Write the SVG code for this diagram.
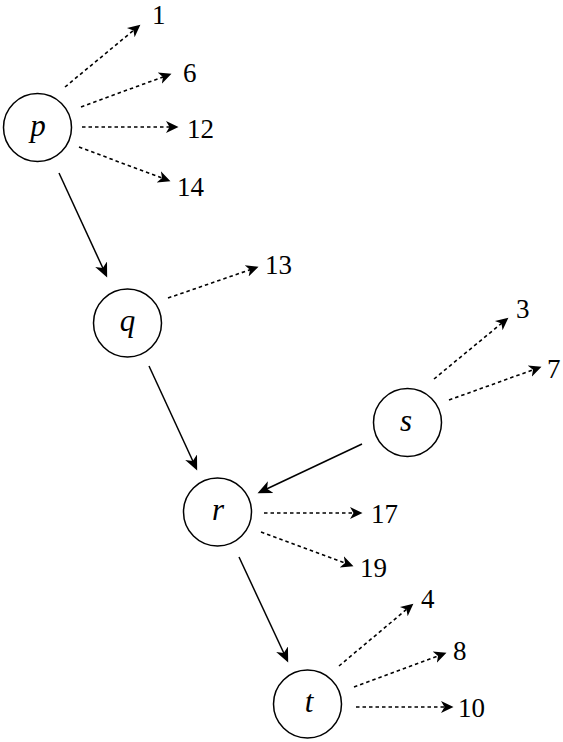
<svg xmlns="http://www.w3.org/2000/svg" width="563" height="742" viewBox="0 0 563 742">
<style>
.node circle{fill:#fff;stroke:#000;stroke-width:1.5}
.node text{font-family:"Liberation Serif","DejaVu Serif",serif;font-style:italic;font-size:31px;text-anchor:middle;fill:#000}
.lbl{font-family:"Liberation Serif","DejaVu Serif",serif;font-size:27px;fill:#000}
.solid{stroke:#000;stroke-width:1.5;fill:none;marker-end:url(#ahs)}
.dot{stroke:#000;stroke-width:1.6;fill:none;stroke-dasharray:3.5 3;marker-end:url(#ah)}
</style>
<defs>
<marker id="ah" markerUnits="userSpaceOnUse" markerWidth="16" markerHeight="16" viewBox="0 -8 16 16" refX="9" refY="0" orient="auto">
<path d="M12.5,0 L0,-6 L3.5,0 L0,6 Z" fill="#000"/>
</marker>
<marker id="ahs" markerUnits="userSpaceOnUse" markerWidth="18" markerHeight="16" viewBox="0 -8 18 16" refX="11" refY="0" orient="auto">
<path d="M14.5,0 L0,-6.5 L4,0 L0,6.5 Z" fill="#000"/>
</marker>
</defs>
<g id="connectors">
<line class="solid" x1="59" y1="173" x2="105.7" y2="274.3"/>
<line class="solid" x1="149" y1="366" x2="195.7" y2="467.3"/>
<line class="solid" x1="362" y1="444" x2="260.7" y2="491.7"/>
<line class="solid" x1="239" y1="557" x2="286.7" y2="659.3"/>
<line class="dot" x1="65" y1="87" x2="137.7" y2="26.9"/>
<line class="dot" x1="81" y1="107" x2="168.2" y2="75"/>
<line class="dot" x1="82" y1="127" x2="175" y2="127"/>
<line class="dot" x1="79" y1="147" x2="167.2" y2="180"/>
<line class="dot" x1="168" y1="298" x2="255.2" y2="268"/>
<line class="dot" x1="434" y1="379" x2="505.7" y2="319.9"/>
<line class="dot" x1="449" y1="400" x2="538.2" y2="368"/>
<line class="dot" x1="264" y1="513" x2="359" y2="513"/>
<line class="dot" x1="261" y1="532" x2="350.2" y2="565"/>
<line class="dot" x1="339" y1="666" x2="410.7" y2="605.9"/>
<line class="dot" x1="354" y1="687" x2="443.2" y2="654"/>
<line class="dot" x1="356" y1="707" x2="450" y2="707"/>
</g>
<g id="labels">
<text class="lbl" x="152" y="24">1</text>
<text class="lbl" x="183" y="82">6</text>
<text class="lbl" x="187" y="138">12</text>
<text class="lbl" x="177" y="196">14</text>
<text class="lbl" x="265" y="274">13</text>
<text class="lbl" x="516" y="318">3</text>
<text class="lbl" x="547" y="378">7</text>
<text class="lbl" x="371" y="523">17</text>
<text class="lbl" x="360" y="577">19</text>
<text class="lbl" x="421" y="608">4</text>
<text class="lbl" x="453" y="660">8</text>
<text class="lbl" x="458" y="717">10</text>
</g>
<g id="node-p" class="node"><circle cx="37.5" cy="127.5" r="34"/><text x="38" y="136">p</text></g>
<g id="node-q" class="node"><circle cx="127.5" cy="323" r="34"/><text x="127.5" y="331">q</text></g>
<g id="node-s" class="node"><circle cx="407.5" cy="422.5" r="34"/><text x="406" y="431">s</text></g>
<g id="node-r" class="node"><circle cx="217.5" cy="512" r="34"/><text x="218" y="520">r</text></g>
<g id="node-t" class="node"><circle cx="307.5" cy="704" r="34"/><text x="309" y="712">t</text></g>
</svg>
